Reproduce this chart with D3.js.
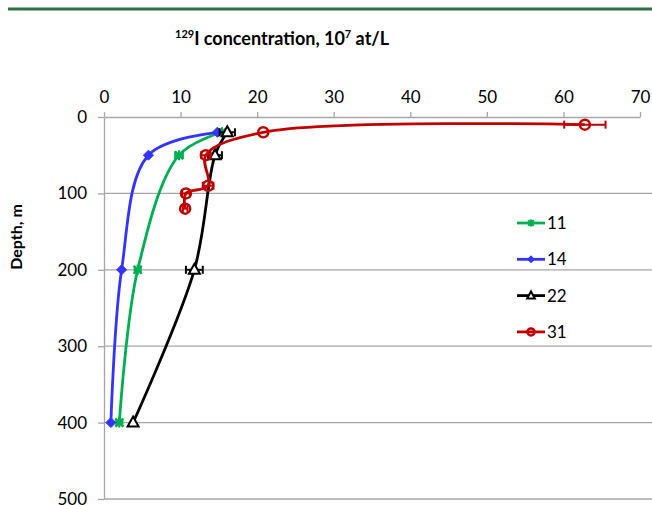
<!DOCTYPE html>
<html>
<head>
<meta charset="utf-8">
<script src="https://cdn.jsdelivr.net/npm/d3@7"></script>
<style>
  body { margin: 0; background: #fff; }
  svg { display: block; font-family: Lato, "Open Sans", sans-serif; }
</style>
</head>
<body>
<div class="chartWrapper"></div>
<script>
const width = 652, height = 505;

// data: depth in m, concentration in 10^7 at/L, error (+/-)
const depth11 = [20, 50, 200, 400];
const conc11 = [15.4, 9.8, 4.4, 2.0];
const err11 = [0, 0.5, 0.4, 0.4];

const depth14 = [20, 50, 200, 400];
const conc14 = [14.8, 5.8, 2.3, 0.9];
const err14 = [0, 0, 0, 0];

const depth22 = [20, 50, 200, 400];
const conc22 = [16.1, 14.5, 11.8, 3.8];
const err22 = [1.0, 0.9, 1.1, 0];

const depth31 = [10, 20, 50, 90, 100, 120];
const conc31 = [62.8, 20.8, 13.3, 13.6, 10.7, 10.6];
const err31 = [2.7, 0, 0.6, 0.7, 0.5, 0.3];

const xTicks = [0, 10, 20, 30, 40, 50, 60, 70];
const yTicks = [0, 100, 200, 300, 400, 500];

const seriesList = [
  { name: "11", depth: depth11, conc: conc11, err: err11, color: "#00b050", marker: "star" },
  { name: "14", depth: depth14, conc: conc14, err: err14, color: "#3333ff", marker: "diamond" },
  { name: "22", depth: depth22, conc: conc22, err: err22, color: "#000000", marker: "triangle" },
  { name: "31", depth: depth31, conc: conc31, err: err31, color: "#c00000", marker: "circle" }
];

const svg = d3.select(".chartWrapper").append("svg")
  .attr("width", width)
  .attr("height", height);

const x = d3.scaleLinear().domain([0, 70]).range([104, 640]);
const y = d3.scaleLinear().domain([0, 500]).range([117, 499]);

// green rule at the top
svg.append("line")
  .attr("x1", 8).attr("x2", width)
  .attr("y1", 9).attr("y2", 9)
  .attr("stroke", "#2f7147").attr("stroke-width", 3);

// title
const title = svg.append("text")
  .attr("x", 175).attr("y", 45)
  .attr("font-weight", "bold")
  .attr("font-size", 18);
title.append("tspan").attr("font-size", 11).attr("dy", -7).text("129");
title.append("tspan").attr("dy", 7).text("I  concentration, 10");
title.append("tspan").attr("font-size", 11).attr("dy", -7).text("7");
title.append("tspan").attr("dy", 7).text(" at/L");

// horizontal gridlines
svg.append("g")
  .selectAll("line")
  .data(yTicks.slice(1))
  .join("line")
  .attr("x1", x(0)).attr("x2", width)
  .attr("y1", d => y(d)).attr("y2", d => y(d))
  .attr("stroke", "#a6a6a6").attr("stroke-width", 1.3);

// top axis
const xAxis = svg.append("g")
  .attr("transform", `translate(0,${y(0)})`)
  .call(d3.axisTop(x).tickValues(xTicks).tickSize(5).tickSizeOuter(0).tickPadding(9));
xAxis.select(".domain").attr("stroke", "#a6a6a6").attr("stroke-width", 1.3);
xAxis.selectAll(".tick line").attr("stroke", "#a6a6a6").attr("stroke-width", 1.3);
xAxis.selectAll("text").attr("font-size", 17).attr("fill", "#000")
  .attr("font-family", "Lato, sans-serif");

// left axis
const yAxis = svg.append("g")
  .attr("transform", `translate(${x(0)},0)`)
  .call(d3.axisLeft(y).tickValues(yTicks).tickSize(6).tickSizeOuter(0).tickPadding(11));
yAxis.select(".domain").attr("stroke", "#a6a6a6").attr("stroke-width", 1.3);
yAxis.selectAll(".tick line").attr("stroke", "#a6a6a6").attr("stroke-width", 1.3);
yAxis.selectAll("text").attr("font-size", 17).attr("fill", "#000")
  .attr("font-family", "Lato, sans-serif");

// y label
svg.append("text")
  .attr("transform", "translate(22,237) rotate(-90)")
  .attr("text-anchor", "middle")
  .attr("font-weight", "bold")
  .attr("font-size", 16)
  .text("Depth, m");

const line = d3.line()
  .x(d => x(d.c))
  .y(d => y(d.d))
  .curve(d3.curveCatmullRom.alpha(0.5));

function drawMarker(g, type, color, k) {
  if (type === "diamond") {
    g.append("path").attr("d", `M0,${-5 * k}L${5 * k},0L0,${5 * k}L${-5 * k},0Z`)
      .attr("fill", color).attr("stroke", color).attr("stroke-width", 1);
  } else if (type === "star") {
    g.append("path").attr("d", `M${-4 * k},${-4 * k}L${4 * k},${4 * k}M${-4 * k},${4 * k}L${4 * k},${-4 * k}M0,${-5 * k}L0,${5 * k}`)
      .attr("stroke", color).attr("stroke-width", 2.2).attr("fill", "none");
  } else if (type === "triangle") {
    g.append("path").attr("d", `M0,${-6 * k}L${5.5 * k},${4 * k}L${-5.5 * k},${4 * k}Z`)
      .attr("fill", "#fff").attr("stroke", color).attr("stroke-width", 2);
  } else {
    g.append("circle").attr("r", 5 * k)
      .attr("fill", "none").attr("stroke", color).attr("stroke-width", 2.5);
  }
}

seriesList.forEach(s => {
  const pts = s.depth.map((d, i) => ({ d: d, c: s.conc[i], e: s.err[i] }));
  const g = svg.append("g");

  g.append("path")
    .datum(pts)
    .attr("d", line)
    .attr("fill", "none")
    .attr("stroke", s.color)
    .attr("stroke-width", 2.8);

  // horizontal error bars
  pts.filter(p => p.e > 0).forEach(p => {
    const eb = g.append("g").attr("stroke", s.color).attr("stroke-width", 2);
    eb.append("line")
      .attr("x1", x(p.c - p.e)).attr("x2", x(p.c + p.e))
      .attr("y1", y(p.d)).attr("y2", y(p.d));
    [p.c - p.e, p.c + p.e].forEach(v => {
      eb.append("line")
        .attr("x1", x(v)).attr("x2", x(v))
        .attr("y1", y(p.d) - 4).attr("y2", y(p.d) + 4);
    });
  });

  pts.forEach(p => {
    const m = g.append("g").attr("transform", `translate(${x(p.c)},${y(p.d)})`);
    drawMarker(m, s.marker, s.color, 1);
  });
});

// legend
const legend = svg.append("g");
seriesList.forEach((s, i) => {
  const ly = 223 + i * 36.3;
  const row = legend.append("g").attr("transform", `translate(517,${ly})`);
  row.append("line")
    .attr("x1", 0).attr("x2", 28)
    .attr("stroke", s.color).attr("stroke-width", 2.8);
  const m = row.append("g").attr("transform", "translate(14,0)");
  drawMarker(m, s.marker, s.color, 0.7);
  row.append("text")
    .attr("x", 30).attr("y", 6)
    .attr("font-size", 17)
    .text(s.name);
});
</script>
</body>
</html>
